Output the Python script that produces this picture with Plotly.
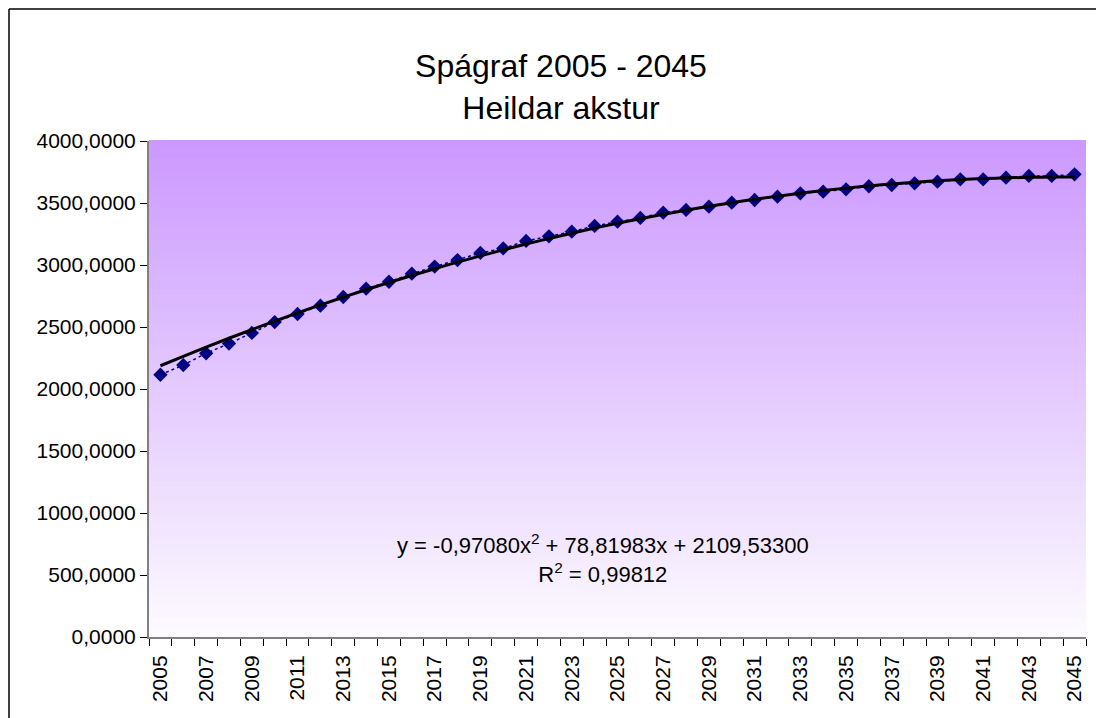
import plotly.graph_objects as go

# ---- data ----
years = list(range(2005, 2046))
akstur = [2115, 2193, 2288, 2366, 2452, 2540, 2605, 2672, 2742, 2809,
          2865, 2930, 2987, 3040, 3097, 3134, 3194, 3231, 3269, 3315,
          3349, 3380, 3422, 3444, 3470, 3503, 3524, 3551, 3578, 3591,
          3610, 3635, 3645, 3659, 3672, 3691, 3691, 3704, 3718, 3718, 3731]
# polynomial trendline coefficients as shown on the chart (x = 1..41)
coef_a = -0.97080
coef_b = 78.81983
coef_c = 2109.53300
trend_x = list(range(1, len(years) + 1))
trend = [coef_a * t * t + coef_b * t + coef_c for t in trend_x]

title_lines = ["Spágraf 2005 - 2045", "Heildar akstur"]
eq_text = "y = -0,97080x<sup>2</sup> + 78,81983x + 2109,53300<br>R<sup>2</sup> = 0,99812"
label_years = years[::2]

# ---- layout geometry (reference pixels; page body adds an 8px offset) ----
OFF = 8
W, H = 1104 - OFF, 718 - OFF
L, R, T, B = 149 - OFF, 1104 - 1086, 141 - OFF, 718 - 637
pw, ph = W - L - R, H - T - B

def px(x):
    return (x - OFF - L) / pw

def py(y):
    return (H - B - (y - OFF)) / ph

fig = go.Figure()

fig.add_trace(go.Scatter(
    x=years, y=akstur, mode="lines+markers",
    line=dict(color="#000080", width=1.5, dash="dot"),
    marker=dict(symbol="diamond", size=11, color="#000080"),
    showlegend=False,
))
fig.add_trace(go.Scatter(
    x=years, y=trend, mode="lines",
    line=dict(color="black", width=3, shape="spline"),
    showlegend=False,
))

# gradient background bands
shapes = []
n = 80
top = (204, 153, 255)
bot = (252, 250, 255)
for i in range(n):
    f = i / (n - 1)
    c = tuple(round(top[k] + (bot[k] - top[k]) * f) for k in range(3))
    shapes.append(dict(type="rect", xref="paper", yref="paper",
                       x0=0, x1=1, y0=1 - (i + 1) / n, y1=1 - i / n + 0.002,
                       fillcolor="rgb(%d,%d,%d)" % c, line=dict(width=0),
                       layer="below"))
# chart border
shapes.append(dict(type="line", xref="paper", yref="paper",
                   x0=px(9), x1=px(1120), y0=py(9), y1=py(9),
                   line=dict(color="black", width=1.5)))
shapes.append(dict(type="line", xref="paper", yref="paper",
                   x0=px(9), x1=px(9), y0=py(9), y1=py(740),
                   line=dict(color="black", width=1.5)))

fig.update_layout(
    width=W, height=H,
    margin=dict(l=L, r=R, t=T, b=B),
    paper_bgcolor="white", plot_bgcolor="white",
    separators=", ",
    font=dict(family="Arial, Liberation Sans, sans-serif", color="black"),
    title=dict(text="<br>".join(title_lines), x=(561 - OFF) / W, xanchor="center",
               y=1 - (77 - OFF) / H, yanchor="middle",
               font=dict(size=32, color="black")),
    shapes=shapes,
    annotations=[dict(text=eq_text, xref="paper", yref="paper",
                      x=px(603), y=py(558), xanchor="center", yanchor="middle",
                      showarrow=False, align="center",
                      font=dict(size=22, color="black"))],
)

fig.update_xaxes(
    range=[2004.5, 2045.5],
    tickmode="array", tickvals=label_years,
    ticktext=[str(y) for y in label_years],
    tickangle=-90, ticks="outside", ticklen=8, tickcolor="rgba(0,0,0,0)",
    tickfont=dict(size=21),
    minor=dict(tickmode="linear", tick0=2004.5, dtick=1, ticks="outside",
               ticklen=7, tickcolor="black", showgrid=False),
    showline=True, linecolor="#808080", linewidth=2,
    showgrid=False, zeroline=False,
)
fig.update_yaxes(
    range=[0, 4000], dtick=500, tickformat=".4f",
    ticks="outside", ticklen=7, tickcolor="black",
    tickfont=dict(size=21),
    showline=True, linecolor="#808080", linewidth=2,
    showgrid=False, zeroline=False,
)

fig.write_html("out.html")
